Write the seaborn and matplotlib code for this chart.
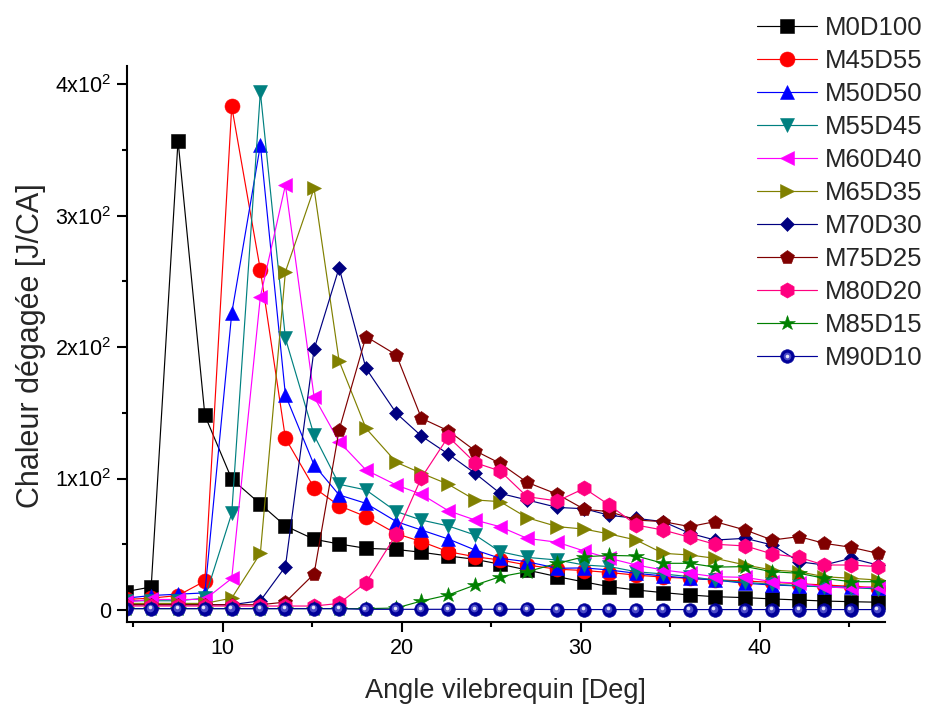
import matplotlib
matplotlib.use("Agg")
import matplotlib.pyplot as plt
from matplotlib.ticker import MultipleLocator, FixedLocator, FixedFormatter
from matplotlib.legend_handler import HandlerTuple
from matplotlib.transforms import offset_copy
import seaborn as sns

# Crank angle [deg] and heat release [J/CA] for each fuel blend
angle = [4.6, 6.0, 7.5, 9.0, 10.5, 12.1, 13.5, 15.1, 16.5, 18.0, 19.7, 21.1, 22.6, 24.1,
         25.5, 27.0, 28.7, 30.2, 31.6, 33.1, 34.6, 36.1, 37.5, 39.2, 40.7, 42.2, 43.6,
         45.1, 46.6]

M0D100 = [14, 17.5, 357, 148, 99.6, 80.6, 63.9, 53.8, 50.2, 46.9, 46.0, 43.9, 41.1, 38.5,
          34.8, 30.4, 25.3, 21.3, 17.7, 15.2, 13.2, 11.4, 10.1, 9.4, 8.4, 7.6, 6.8, 6.3, 5.9]
M45D55 = [8, 9, 11, 22, 383, 258.6, 130.6, 93.0, 79.3, 71.0, 58, 52, 44.3, 40.5, 38, 34.2,
          31, 30, 28.5, 26.5, 25, 24, 23, 22, 21, 20, 19, 18, 17]
M50D50 = [9, 11, 12, 13, 225.6, 353.6, 163.5, 110.3, 87.5, 81.1, 67.2, 60.8, 54, 45.6, 39.3,
          36.7, 31.7, 32, 30.4, 27.9, 25.9, 24.1, 22.8, 20.3, 19, 18.3, 17.7, 17.3, 16.5]
M55D45 = [7, 7, 7, 9, 73.5, 394, 206.6, 133, 95.6, 91.3, 74.8, 68.4, 63.9, 57, 44.3, 40, 38,
          34.2, 33, 29.1, 27.4, 25.3, 22.8, 21, 19.5, 18.5, 17.5, 17, 16]
M60D40 = [6, 8, 8, 8, 24, 238.3, 323.2, 162.2, 128, 106.5, 95, 88, 75.5, 68.4, 63.3, 54.5,
          51.5, 44.8, 39.3, 34.2, 30.4, 27.9, 25.3, 24.8, 21.5, 20.3, 17.7, 16.5, 17.7]
M65D35 = [5, 5, 5, 5, 9, 43.1, 257.3, 320.7, 189.4, 138.2, 112.3, 104, 95.6, 83.7, 82.4,
          70.2, 63.4, 61.5, 57.8, 53.2, 43.1, 41.8, 39.3, 34.2, 30.4, 29.1, 25.3, 24.1, 22.8]
M70D30 = [4, 4, 4, 4, 4, 7, 33, 198.2, 260.3, 183.8, 149.6, 132.3, 118.6, 103.9, 88.7, 83.7,
          78, 77, 72, 69.7, 67.2, 58.3, 53.2, 54.5, 49.4, 36.7, 34.2, 39.3, 34.2]
M75D25 = [4, 4, 4, 4, 4, 4, 6, 27.4, 136.9, 208, 194, 145.8, 136.3, 121.1, 111.5, 97.1, 88,
          76.6, 74.8, 68.4, 67.2, 63.4, 67.2, 60.8, 53.2, 55.8, 50.7, 47.7, 43.1]
M80D20 = [3, 3, 3, 3, 3, 3, 3, 3, 5, 20.8, 57.6, 100.6, 131.8, 112, 105.7, 86.2, 82.9, 92.5,
          79.8, 64.6, 60.8, 55.3, 50, 48.7, 42.6, 40, 34.2, 34.2, 33]
M85D15 = [1, 1, 1, 1, 1, 1, 1, 1, 1, 1, 1.5, 6.8, 11.4, 19, 25.3, 29.1, 35.5, 40.5, 41.5,
          41.1, 35.5, 35.5, 32.6, 33, 29.1, 27.9, 24.1, 21.5, 21.5]
M90D10 = [1, 1, 1, 1, 1, 1, 1, 1, 1, 0.5, 0.5, 0.5, 0.5, 0.5, 0.5, 0.5, 0.3, 0.3, 0.3, 0.3,
          0.3, 0.3, 0.3, 0.3, 0.3, 0.3, 0.3, 0.3, 0.3]

series_names = ["M0D100", "M45D55", "M50D50", "M55D45", "M60D40", "M65D35",
                "M70D30", "M75D25", "M80D20", "M85D15", "M90D10"]
series_values = [M0D100, M45D55, M50D50, M55D45, M60D40, M65D35,
                 M70D30, M75D25, M80D20, M85D15, M90D10]

x_major_ticks = [10, 20, 30, 40]
y_major_ticks = [0, 100, 200, 300, 400]
y_tick_labels = ["0", "1x10$^{2}$", "2x10$^{2}$", "3x10$^{2}$", "4x10$^{2}$"]

# colour, marker, marker size (pt)
styles = {
    "M0D100": ("#000000", "s", 9.5),
    "M45D55": ("#FF0000", "o", 10.8),
    "M50D50": ("#0000FF", "^", 10.5),
    "M55D45": ("#008080", "v", 10.5),
    "M60D40": ("#FF00FF", "<", 10.5),
    "M65D35": ("#808000", ">", 10.5),
    "M70D30": ("#000080", "D", 7.2),
    "M75D25": ("#800000", "p", 10.5),
    "M80D20": ("#FF0080", "h", 11.0),
    "M85D15": ("#008000", "*", 11.5),
    "M90D10": ("#000099", "o", 9.8),
}

sns.set_style("ticks")
plt.rcParams["font.family"] = ["Liberation Sans", "DejaVu Sans"]
plt.rcParams["mathtext.default"] = "regular"

fig = plt.figure(figsize=(9.3, 7.08), dpi=100)
ax = fig.add_axes([0.1362, 0.121, 0.8154, 0.7862])

for name, values in zip(series_names, series_values):
    color, marker, ms = styles[name]
    sns.lineplot(x=angle, y=values, ax=ax, color=color, marker=marker,
                 markersize=ms, markeredgecolor=color, markeredgewidth=0.4,
                 linewidth=0.85, label=name, estimator=None, sort=False)

# glossy highlight on the sphere markers
hl_mid, = ax.plot(angle, M90D10, ls="none", marker="o", ms=5.5, color="#4a4ac8",
                  mew=0, transform=offset_copy(ax.transData, fig, x=-1, y=1, units="dots"))
hl_top, = ax.plot(angle, M90D10, ls="none", marker="o", ms=2.6, color="#e6e6f8",
                  mew=0, transform=offset_copy(ax.transData, fig, x=-1.5, y=1.5, units="dots"))

ax.set_xlim(4.63, 47.0)
ax.set_ylim(-9.4, 414)

ax.xaxis.set_major_locator(FixedLocator(x_major_ticks))
ax.xaxis.set_minor_locator(MultipleLocator(5))
ax.yaxis.set_major_locator(FixedLocator(y_major_ticks))
ax.yaxis.set_major_formatter(FixedFormatter(y_tick_labels))
ax.yaxis.set_minor_locator(MultipleLocator(50))

for side in ("top", "right"):
    ax.spines[side].set_visible(False)
for side in ("left", "bottom"):
    ax.spines[side].set_linewidth(1.5)
    ax.spines[side].set_color("black")

ax.tick_params(axis="both", which="major", direction="out", length=7.2, width=1.5,
               labelsize=15.5, colors="black", pad=4)
ax.tick_params(axis="both", which="minor", direction="out", length=3.6, width=1.5,
               colors="black")

ax.set_xlabel("Angle vilebrequin [Deg]", fontsize=19.5)
ax.set_ylabel("Chaleur dégagée [J/CA]", fontsize=22)
ax.xaxis.set_label_coords(0.5, -0.1)
ax.yaxis.set_label_coords(-0.107, 0.498)

handles, labels = ax.get_legend_handles_labels()
ax.get_legend().remove()
idx = labels.index("M90D10")
handles[idx] = (handles[idx], hl_mid, hl_top)
fig.legend(handles, labels, loc="upper left", bbox_to_anchor=(0.814, 0.978),
           frameon=False, fontsize=18.5, handlelength=2.33, handletextpad=0.3,
           labelspacing=0.35, borderpad=0, borderaxespad=0, numpoints=1,
           handler_map={tuple: HandlerTuple(ndivide=1, pad=0)})

fig.savefig("out.png", dpi=100, facecolor="white")
